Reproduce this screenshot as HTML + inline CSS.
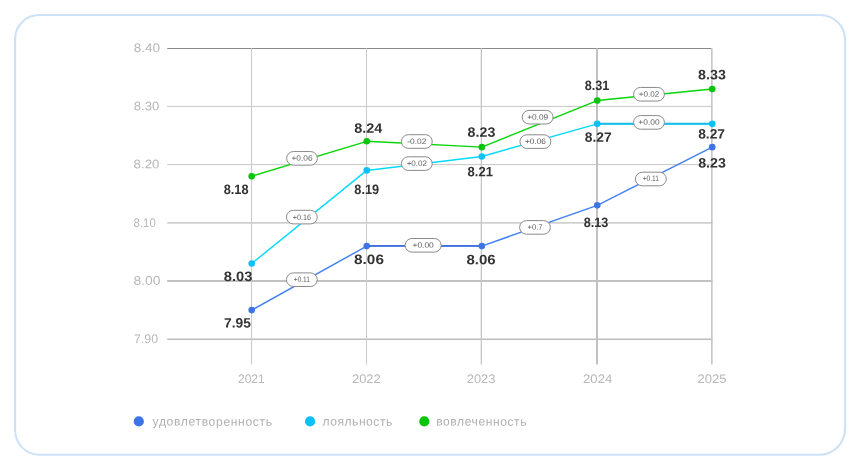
<!DOCTYPE html>
<html lang="ru"><head><meta charset="utf-8"><title>chart</title>
<style>
html,body{margin:0;padding:0;background:#fff;}
body{width:860px;height:469px;overflow:hidden;position:relative;font-family:"Liberation Sans",sans-serif;}
svg{position:absolute;left:0;top:0;display:block}
text{font-family:"Liberation Sans",sans-serif}
.ax{font-size:12.4px;fill:#b8b8b8;letter-spacing:0px}
.yr{letter-spacing:0.3px}
.lg{font-size:12.1px;fill:#b0b0b0;letter-spacing:0.97px}
.lb{font-size:13.6px;font-weight:700;fill:#333}
.pt{font-size:8.0px;fill:#5e5e5e}
</style></head><body>
<svg width="860" height="469" viewBox="0 0 860 469">
<path d="M39.1 15.0 H820.1 A25.0 25.0 0 0 1 845.1 40.0 V428.8 A26.0 26.0 0 0 1 819.1 454.8 H39.6 A24.5 24.5 0 0 1 15.1 430.3 V39.0 A24.0 24.0 0 0 1 39.1 15.0 Z" fill="#fff" stroke="#cde2f7" stroke-width="2.1"/>
<line x1="167.2" y1="48.50" x2="711.6" y2="48.50" stroke="#8a8a8a" stroke-width="1.05"/>
<line x1="167.2" y1="106.40" x2="712.4" y2="106.40" stroke="#c6c6c6" stroke-width="1.0"/>
<line x1="167.2" y1="164.60" x2="712.4" y2="164.60" stroke="#c6c6c6" stroke-width="1.0"/>
<line x1="167.2" y1="222.80" x2="712.4" y2="222.80" stroke="#bcbcbc" stroke-width="1.35"/>
<line x1="167.2" y1="281.00" x2="712.4" y2="281.00" stroke="#c2c2c2" stroke-width="1.8"/>
<line x1="167.2" y1="339.20" x2="712.4" y2="339.20" stroke="#bcbcbc" stroke-width="1.5"/>
<line x1="251.50" y1="48.2" x2="251.50" y2="364.5" stroke="#cacaca" stroke-width="1.1"/>
<line x1="366.50" y1="48.2" x2="366.50" y2="364.5" stroke="#cccccc" stroke-width="1.1"/>
<line x1="481.35" y1="48.2" x2="481.35" y2="364.5" stroke="#c6c6c6" stroke-width="1.3"/>
<line x1="597.00" y1="48.2" x2="597.00" y2="364.5" stroke="#c1c1c1" stroke-width="2.0"/>
<line x1="711.85" y1="48.2" x2="711.85" y2="364.5" stroke="#c2c2c2" stroke-width="1.5"/>
<text class="ax" transform="translate(133.7 51.95) rotate(0.03)" x="0" y="0" textLength="26.4" lengthAdjust="spacingAndGlyphs">8.40</text>
<text class="ax" transform="translate(133.7 110.15) rotate(0.03)" x="0" y="0" textLength="25.6" lengthAdjust="spacingAndGlyphs">8.30</text>
<text class="ax" transform="translate(133.6 168.35) rotate(0.03)" x="0" y="0" textLength="25.9" lengthAdjust="spacingAndGlyphs">8.20</text>
<text class="ax" transform="translate(133.6 226.55) rotate(0.03)" x="0" y="0" textLength="22.1" lengthAdjust="spacingAndGlyphs">8.10</text>
<text class="ax" transform="translate(133.6 284.75) rotate(0.03)" x="0" y="0" textLength="26.9" lengthAdjust="spacingAndGlyphs">8.00</text>
<text class="ax" transform="translate(134.0 342.95) rotate(0.03)" x="0" y="0" textLength="24.0" lengthAdjust="spacingAndGlyphs">7.90</text>
<text class="ax" transform="translate(238.0 382.9) rotate(0.03)" x="0" y="0" textLength="26.7" lengthAdjust="spacingAndGlyphs">2021</text>
<text class="ax" transform="translate(352.0 382.9) rotate(0.03)" x="0" y="0" textLength="28.7" lengthAdjust="spacingAndGlyphs">2022</text>
<text class="ax" transform="translate(466.8 382.9) rotate(0.03)" x="0" y="0" textLength="28.6" lengthAdjust="spacingAndGlyphs">2023</text>
<text class="ax" transform="translate(583.0 382.9) rotate(0.03)" x="0" y="0" textLength="29.3" lengthAdjust="spacingAndGlyphs">2024</text>
<text class="ax" transform="translate(697.5 382.9) rotate(0.03)" x="0" y="0" textLength="28.9" lengthAdjust="spacingAndGlyphs">2025</text>
<polyline points="251.70,310.10 366.75,246.08 481.85,246.08 597.25,205.34 712.25,147.14" fill="none" stroke="#4080f2" stroke-width="1.45" stroke-linejoin="round"/>
<line x1="366.75" y1="245.85" x2="481.85" y2="245.85" stroke="#4272dc" stroke-width="1.95"/>
<circle cx="251.70" cy="310.10" r="3.3" fill="#3d74e6"/>
<circle cx="366.75" cy="246.08" r="3.3" fill="#3d74e6"/>
<circle cx="481.85" cy="246.08" r="3.3" fill="#3d74e6"/>
<circle cx="597.25" cy="205.34" r="3.3" fill="#3d74e6"/>
<circle cx="712.25" cy="147.14" r="3.3" fill="#3d74e6"/>
<polyline points="251.70,263.54 366.75,170.42 481.85,156.45 597.25,123.86 712.25,123.86" fill="none" stroke="#06dafc" stroke-width="1.45" stroke-linejoin="round"/>
<line x1="597.25" y1="123.75" x2="712.25" y2="123.75" stroke="#14bde9" stroke-width="1.95"/>
<circle cx="251.70" cy="263.54" r="3.3" fill="#0cc0fa"/>
<circle cx="366.75" cy="170.42" r="3.3" fill="#0cc0fa"/>
<circle cx="481.85" cy="156.45" r="3.3" fill="#0cc0fa"/>
<circle cx="597.25" cy="123.86" r="3.3" fill="#0cc0fa"/>
<circle cx="712.25" cy="123.86" r="3.3" fill="#0cc0fa"/>
<polyline points="251.70,176.24 366.75,141.32 481.85,147.14 597.25,100.58 712.25,88.94" fill="none" stroke="#08d408" stroke-width="1.45" stroke-linejoin="round"/>
<circle cx="251.70" cy="176.24" r="3.3" fill="#0ac40a"/>
<circle cx="366.75" cy="141.32" r="3.3" fill="#0ac40a"/>
<circle cx="481.85" cy="147.14" r="3.3" fill="#0ac40a"/>
<circle cx="597.25" cy="100.58" r="3.3" fill="#0ac40a"/>
<circle cx="712.25" cy="88.94" r="3.3" fill="#0ac40a"/>
<rect x="286.60" y="151.55" width="30.80" height="13.60" rx="6.80" fill="#fff" stroke="#8a8a8a" stroke-width="1.0"/>
<text class="pt" transform="translate(291.50 160.80) rotate(0.03)" x="0" y="0" textLength="21.0" lengthAdjust="spacingAndGlyphs">+0.06</text>
<rect x="286.45" y="210.30" width="30.80" height="13.60" rx="6.80" fill="#fff" stroke="#8a8a8a" stroke-width="1.0"/>
<text class="pt" transform="translate(292.75 219.55) rotate(0.03)" x="0" y="0" textLength="18.2" lengthAdjust="spacingAndGlyphs">+0.16</text>
<rect x="286.45" y="272.90" width="30.80" height="13.60" rx="6.80" fill="#fff" stroke="#8a8a8a" stroke-width="1.0"/>
<text class="pt" transform="translate(293.80 282.15) rotate(0.03)" x="0" y="0" textLength="16.1" lengthAdjust="spacingAndGlyphs">+0.11</text>
<rect x="401.45" y="134.70" width="30.80" height="13.60" rx="6.80" fill="#fff" stroke="#8a8a8a" stroke-width="1.0"/>
<text class="pt" transform="translate(407.25 143.95) rotate(0.03)" x="0" y="0" textLength="19.2" lengthAdjust="spacingAndGlyphs">-0.02</text>
<rect x="401.45" y="156.80" width="30.80" height="13.60" rx="6.80" fill="#fff" stroke="#8a8a8a" stroke-width="1.0"/>
<text class="pt" transform="translate(406.65 166.05) rotate(0.03)" x="0" y="0" textLength="20.4" lengthAdjust="spacingAndGlyphs">+0.02</text>
<rect x="405.10" y="238.50" width="36.10" height="13.60" rx="6.80" fill="#fff" stroke="#8a8a8a" stroke-width="1.0"/>
<text class="pt" transform="translate(412.50 247.75) rotate(0.03)" x="0" y="0" textLength="21.3" lengthAdjust="spacingAndGlyphs">+0.00</text>
<rect x="522.20" y="110.40" width="30.90" height="13.60" rx="6.80" fill="#fff" stroke="#8a8a8a" stroke-width="1.0"/>
<text class="pt" transform="translate(527.15 119.65) rotate(0.03)" x="0" y="0" textLength="21.0" lengthAdjust="spacingAndGlyphs">+0.09</text>
<rect x="519.95" y="134.80" width="30.90" height="13.60" rx="6.80" fill="#fff" stroke="#8a8a8a" stroke-width="1.0"/>
<text class="pt" transform="translate(524.90 144.05) rotate(0.03)" x="0" y="0" textLength="21.0" lengthAdjust="spacingAndGlyphs">+0.06</text>
<rect x="519.60" y="220.60" width="30.80" height="13.60" rx="6.80" fill="#fff" stroke="#8a8a8a" stroke-width="1.0"/>
<text class="pt" transform="translate(527.55 229.85) rotate(0.03)" x="0" y="0" textLength="14.9" lengthAdjust="spacingAndGlyphs">+0.7</text>
<rect x="633.60" y="87.45" width="30.80" height="13.60" rx="6.80" fill="#fff" stroke="#8a8a8a" stroke-width="1.0"/>
<text class="pt" transform="translate(638.80 96.70) rotate(0.03)" x="0" y="0" textLength="20.4" lengthAdjust="spacingAndGlyphs">+0.02</text>
<rect x="633.60" y="115.60" width="30.80" height="13.60" rx="6.80" fill="#fff" stroke="#8a8a8a" stroke-width="1.0"/>
<text class="pt" transform="translate(638.35 124.85) rotate(0.03)" x="0" y="0" textLength="21.3" lengthAdjust="spacingAndGlyphs">+0.00</text>
<rect x="635.40" y="172.20" width="30.90" height="13.60" rx="6.80" fill="#fff" stroke="#8a8a8a" stroke-width="1.0"/>
<text class="pt" transform="translate(642.75 181.45) rotate(0.03)" x="0" y="0" textLength="16.2" lengthAdjust="spacingAndGlyphs">+0.11</text>
<text class="lb" transform="translate(223.7 194.0) rotate(0.03)" x="0" y="0" textLength="24.8" lengthAdjust="spacingAndGlyphs">8.18</text>
<text class="lb" transform="translate(223.7 281.0) rotate(0.03)" x="0" y="0" textLength="28.7" lengthAdjust="spacingAndGlyphs">8.03</text>
<text class="lb" transform="translate(224.0 327.4) rotate(0.03)" x="0" y="0" textLength="26.8" lengthAdjust="spacingAndGlyphs">7.95</text>
<text class="lb" transform="translate(354.3 132.8) rotate(0.03)" x="0" y="0" textLength="28.1" lengthAdjust="spacingAndGlyphs">8.24</text>
<text class="lb" transform="translate(354.3 194.0) rotate(0.03)" x="0" y="0" textLength="24.8" lengthAdjust="spacingAndGlyphs">8.19</text>
<text class="lb" transform="translate(354.1 264.1) rotate(0.03)" x="0" y="0" textLength="29.8" lengthAdjust="spacingAndGlyphs">8.06</text>
<text class="lb" transform="translate(467.6 136.8) rotate(0.03)" x="0" y="0" textLength="27.7" lengthAdjust="spacingAndGlyphs">8.23</text>
<text class="lb" transform="translate(467.6 176.2) rotate(0.03)" x="0" y="0" textLength="25.4" lengthAdjust="spacingAndGlyphs">8.21</text>
<text class="lb" transform="translate(466.4 264.2) rotate(0.03)" x="0" y="0" textLength="29.2" lengthAdjust="spacingAndGlyphs">8.06</text>
<text class="lb" transform="translate(584.8 90.0) rotate(0.03)" x="0" y="0" textLength="24.6" lengthAdjust="spacingAndGlyphs">8.31</text>
<text class="lb" transform="translate(584.8 141.7) rotate(0.03)" x="0" y="0" textLength="26.8" lengthAdjust="spacingAndGlyphs">8.27</text>
<text class="lb" transform="translate(583.8 227.4) rotate(0.03)" x="0" y="0" textLength="24.6" lengthAdjust="spacingAndGlyphs">8.13</text>
<text class="lb" transform="translate(698.1 79.3) rotate(0.03)" x="0" y="0" textLength="27.7" lengthAdjust="spacingAndGlyphs">8.33</text>
<text class="lb" transform="translate(698.2 138.4) rotate(0.03)" x="0" y="0" textLength="26.8" lengthAdjust="spacingAndGlyphs">8.27</text>
<text class="lb" transform="translate(698.2 167.6) rotate(0.03)" x="0" y="0" textLength="27.7" lengthAdjust="spacingAndGlyphs">8.23</text>
<circle cx="138.8" cy="421.4" r="5.1" fill="#3d74e6"/>
<text class="lg" transform="translate(152.6 425.6) rotate(0.03)" x="0" y="0" textLength="120.4" lengthAdjust="spacing">удовлетворенность</text>
<circle cx="310.1" cy="421.4" r="5.1" fill="#0cc0fa"/>
<text class="lg" transform="translate(322.6 425.6) rotate(0.03)" x="0" y="0" textLength="70.6" lengthAdjust="spacing">лояльность</text>
<circle cx="424.3" cy="421.4" r="5.1" fill="#0ac40a"/>
<text class="lg" transform="translate(436.2 425.6) rotate(0.03)" x="0" y="0" textLength="91.3" lengthAdjust="spacing">вовлеченность</text>
</svg></body></html>
